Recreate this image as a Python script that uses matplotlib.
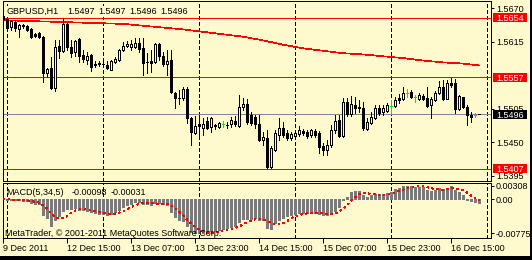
import matplotlib
matplotlib.use("Agg")
import matplotlib.pyplot as plt
from matplotlib.patches import Rectangle
from matplotlib.transforms import blended_transform_factory
import numpy as np

plt.rcParams['font.family'] = ['Liberation Sans', 'DejaVu Sans']
plt.rcParams['lines.scale_dashes'] = False

# ---------------- data ----------------
bar_index = list(range(-1, 119))
opens = [1.5657, 1.5652, 1.5639, 1.5647, 1.5636, 1.5642, 1.5641, 1.5636, 1.5627, 1.5629,
         1.5623, 1.5564, 1.5572, 1.5539, 1.5608, 1.5600, 1.5644, 1.5606, 1.5598, 1.5619,
         1.5593, 1.5585, 1.5593, 1.5578, 1.5579, 1.5578, 1.5577, 1.5569, 1.5582, 1.5585,
         1.5601, 1.5607, 1.5606, 1.5606, 1.5613, 1.5605, 1.5582, 1.5583, 1.5582, 1.5611,
         1.5591, 1.5578, 1.5585, 1.5531, 1.5523, 1.5523, 1.5537, 1.5490, 1.5465, 1.5480,
         1.5474, 1.5485, 1.5475, 1.5477, 1.5475, 1.5480, 1.5479, 1.5480, 1.5485, 1.5477,
         1.5508, 1.5513, 1.5495, 1.5492, 1.5480, 1.5454, 1.5457, 1.5409, 1.5438, 1.5462,
         1.5474, 1.5465, 1.5457, 1.5461, 1.5464, 1.5469, 1.5467, 1.5462, 1.5469, 1.5465,
         1.5444, 1.5438, 1.5446, 1.5470, 1.5487, 1.5461, 1.5516, 1.5497, 1.5511, 1.5508,
         1.5506, 1.5472, 1.5482, 1.5490, 1.5506, 1.5500, 1.5501, 1.5510, 1.5510, 1.5523,
         1.5521, 1.5531, 1.5533, 1.5524, 1.5521, 1.5526, 1.5523, 1.5511, 1.5519, 1.5531,
         1.5541, 1.5521, 1.5547, 1.5547, 1.5505, 1.5524, 1.5508, 1.5495, 1.5495, 1.5497]
highs = [1.5659, 1.5653, 1.5650, 1.5649, 1.5644, 1.5644, 1.5642, 1.5637, 1.5629, 1.5631,
         1.5624, 1.5572, 1.5590, 1.5618, 1.5618, 1.5654, 1.5645, 1.5618, 1.5618, 1.5621,
         1.5601, 1.5598, 1.5595, 1.5583, 1.5583, 1.5582, 1.5583, 1.5585, 1.5590, 1.5603,
         1.5615, 1.5616, 1.5618, 1.5621, 1.5621, 1.5621, 1.5596, 1.5601, 1.5613, 1.5613,
         1.5598, 1.5601, 1.5601, 1.5533, 1.5536, 1.5541, 1.5541, 1.5492, 1.5493, 1.5493,
         1.5490, 1.5492, 1.5492, 1.5480, 1.5483, 1.5485, 1.5483, 1.5492, 1.5493, 1.5528,
         1.5523, 1.5521, 1.5500, 1.5495, 1.5495, 1.5467, 1.5470, 1.5444, 1.5470, 1.5490,
         1.5483, 1.5470, 1.5467, 1.5469, 1.5477, 1.5472, 1.5470, 1.5472, 1.5472, 1.5469,
         1.5449, 1.5454, 1.5479, 1.5495, 1.5495, 1.5523, 1.5523, 1.5526, 1.5524, 1.5519,
         1.5516, 1.5490, 1.5500, 1.5511, 1.5511, 1.5511, 1.5515, 1.5519, 1.5524, 1.5529,
         1.5541, 1.5537, 1.5536, 1.5528, 1.5531, 1.5529, 1.5541, 1.5524, 1.5534, 1.5550,
         1.5552, 1.5552, 1.5557, 1.5554, 1.5528, 1.5525, 1.5511, 1.5500, 1.5498, 1.5497]
lows = [1.5650, 1.5634, 1.5634, 1.5632, 1.5623, 1.5637, 1.5632, 1.5621, 1.5623, 1.5621,
        1.5549, 1.5557, 1.5537, 1.5534, 1.5588, 1.5598, 1.5601, 1.5590, 1.5591, 1.5582,
        1.5582, 1.5578, 1.5567, 1.5573, 1.5575, 1.5575, 1.5570, 1.5568, 1.5580, 1.5584,
        1.5599, 1.5606, 1.5601, 1.5605, 1.5598, 1.5560, 1.5564, 1.5565, 1.5580, 1.5585,
        1.5575, 1.5560, 1.5531, 1.5506, 1.5513, 1.5519, 1.5482, 1.5446, 1.5464, 1.5459,
        1.5462, 1.5472, 1.5467, 1.5472, 1.5474, 1.5475, 1.5474, 1.5475, 1.5477, 1.5475,
        1.5503, 1.5480, 1.5479, 1.5474, 1.5452, 1.5446, 1.5407, 1.5407, 1.5436, 1.5454,
        1.5459, 1.5454, 1.5454, 1.5457, 1.5461, 1.5462, 1.5457, 1.5459, 1.5459, 1.5433,
        1.5429, 1.5429, 1.5442, 1.5465, 1.5459, 1.5459, 1.5493, 1.5493, 1.5498, 1.5500,
        1.5470, 1.5470, 1.5480, 1.5488, 1.5495, 1.5495, 1.5500, 1.5498, 1.5508, 1.5515,
        1.5519, 1.5524, 1.5523, 1.5516, 1.5519, 1.5519, 1.5508, 1.5490, 1.5518, 1.5529,
        1.5519, 1.5521, 1.5541, 1.5498, 1.5503, 1.5507, 1.5479, 1.5483, 1.5492, 1.5496]
closes = [1.5652, 1.5637, 1.5649, 1.5637, 1.5642, 1.5641, 1.5634, 1.5623, 1.5624, 1.5623,
          1.5564, 1.5570, 1.5539, 1.5606, 1.5600, 1.5644, 1.5606, 1.5596, 1.5616, 1.5591,
          1.5587, 1.5591, 1.5573, 1.5577, 1.5580, 1.5579, 1.5572, 1.5583, 1.5587, 1.5601,
          1.5607, 1.5611, 1.5611, 1.5613, 1.5603, 1.5580, 1.5581, 1.5580, 1.5611, 1.5591,
          1.5578, 1.5583, 1.5533, 1.5523, 1.5522, 1.5537, 1.5490, 1.5467, 1.5477, 1.5477,
          1.5480, 1.5474, 1.5490, 1.5478, 1.5482, 1.5480, 1.5478, 1.5487, 1.5480, 1.5508,
          1.5513, 1.5483, 1.5482, 1.5480, 1.5454, 1.5459, 1.5409, 1.5441, 1.5465, 1.5474,
          1.5462, 1.5457, 1.5464, 1.5465, 1.5470, 1.5465, 1.5461, 1.5470, 1.5462, 1.5442,
          1.5438, 1.5446, 1.5470, 1.5485, 1.5461, 1.5516, 1.5497, 1.5513, 1.5506, 1.5506,
          1.5474, 1.5483, 1.5492, 1.5506, 1.5498, 1.5506, 1.5511, 1.5510, 1.5519, 1.5519,
          1.5531, 1.5531, 1.5524, 1.5524, 1.5528, 1.5521, 1.5510, 1.5521, 1.5531, 1.5541,
          1.5521, 1.5547, 1.5544, 1.5505, 1.5526, 1.5508, 1.5495, 1.5492, 1.5495, 1.5496]

ma_index = [-1, 4, 9, 14, 19, 24, 29, 34, 39, 44, 49, 54, 59, 64, 69, 74, 79, 84,
            89, 94, 99, 104, 109, 114, 118]
ma_values = [1.5650, 1.5649, 1.5648, 1.5647, 1.5646, 1.5645, 1.5644, 1.5641, 1.5638,
             1.5635, 1.5631, 1.5627, 1.5623, 1.5617, 1.5610, 1.5604, 1.5600, 1.5596,
             1.5594, 1.5591, 1.5588, 1.5584, 1.5581, 1.5579, 1.5576]

macd_main = [-0.00003, -0.00008, -0.00015, -0.00023, -0.00030, -0.00038, -0.00053, -0.00076, -0.00099, -0.00114,
             -0.00357, -0.00418, -0.00608, -0.00464, -0.00388, -0.00266, -0.00220, -0.00213, -0.00205, -0.00236,
             -0.00251, -0.00266, -0.00296, -0.00312, -0.00327, -0.00327, -0.00350, -0.00327, -0.00296, -0.00236,
             -0.00175, -0.00129, -0.00099, -0.00068, -0.00061, -0.00099, -0.00114, -0.00122, -0.00084, -0.00084,
             -0.00114, -0.00129, -0.00296, -0.00403, -0.00479, -0.00494, -0.00616, -0.00745, -0.00775, -0.00775,
             -0.00768, -0.00768, -0.00722, -0.00707, -0.00692, -0.00669, -0.00654, -0.00631, -0.00616, -0.00517,
             -0.00441, -0.00441, -0.00441, -0.00433, -0.00464, -0.00479, -0.00654, -0.00669, -0.00540, -0.00464,
             -0.00418, -0.00388, -0.00357, -0.00327, -0.00312, -0.00304, -0.00304, -0.00296, -0.00304, -0.00342,
             -0.00357, -0.00350, -0.00289, -0.00266, -0.00175, -0.00008, 0.00053, 0.00160, 0.00182, 0.00182,
             0.00091, 0.00053, 0.00091, 0.00106, 0.00106, 0.00114, 0.00144, 0.00167, 0.00220, 0.00258,
             0.00289, 0.00308, 0.00296, 0.00281, 0.00281, 0.00281, 0.00205, 0.00190, 0.00205, 0.00243,
             0.00220, 0.00243, 0.00296, 0.00205, 0.00167, 0.00091, -0.00008, -0.00046, -0.00068, -0.00098]
macd_signal = [-0.00002, -0.00004, -0.00007, -0.00010, -0.00016, -0.00023, -0.00032, -0.00044, -0.00059, -0.00076,
               -0.00140, -0.00213, -0.00319, -0.00392, -0.00447, -0.00429, -0.00389, -0.00310, -0.00258, -0.00228,
               -0.00225, -0.00234, -0.00251, -0.00272, -0.00290, -0.00306, -0.00322, -0.00329, -0.00325, -0.00307,
               -0.00277, -0.00233, -0.00187, -0.00141, -0.00106, -0.00091, -0.00088, -0.00093, -0.00096, -0.00101,
               -0.00104, -0.00107, -0.00141, -0.00205, -0.00284, -0.00360, -0.00458, -0.00547, -0.00622, -0.00681,
               -0.00736, -0.00766, -0.00762, -0.00748, -0.00731, -0.00712, -0.00689, -0.00671, -0.00652, -0.00617,
               -0.00572, -0.00529, -0.00491, -0.00455, -0.00444, -0.00452, -0.00494, -0.00540, -0.00561, -0.00561,
               -0.00549, -0.00496, -0.00433, -0.00391, -0.00360, -0.00338, -0.00321, -0.00309, -0.00304, -0.00310,
               -0.00321, -0.00330, -0.00328, -0.00321, -0.00287, -0.00218, -0.00137, -0.00047, 0.00042, 0.00114,
               0.00134, 0.00134, 0.00120, 0.00105, 0.00089, 0.00094, 0.00112, 0.00127, 0.00150, 0.00181,
               0.00216, 0.00248, 0.00274, 0.00286, 0.00291, 0.00289, 0.00269, 0.00248, 0.00232, 0.00225,
               0.00213, 0.00220, 0.00241, 0.00241, 0.00226, 0.00200, 0.00150, 0.00082, 0.00027, -0.00031]

level_lines = [1.5654, 1.5557, 1.5407]
bid_price = 1.5496
separator_index = [0, 24, 48, 72, 96, 120]
time_tick_index = [-1, 15, 31, 47, 63, 79, 95, 111]
time_tick_labels = ['9 Dec 2011', '12 Dec 15:00', '13 Dec 07:00', '13 Dec 23:00',
                    '14 Dec 15:00', '15 Dec 07:00', '15 Dec 23:00', '16 Dec 15:00']
price_ticks = [1.5670, 1.5615, 1.5505, 1.5450, 1.5395]
macd_ticks = [0.00308, 0.0, -0.00775]
macd_tick_labels = ['0.00308', '0.00', '-0.00775']
title_tokens = ['GBPUSD,H1', '1.5497', '1.5497', '1.5496', '1.5496']
macd_tokens = ['MACD(5,34,5)', '-0.00098', '-0.00031']
copyright_text = 'MetaTrader, \u00a9 2001-2011 MetaQuotes Software Corp.'

# ---------------- style ----------------
BG = '#FFFACD'
RED = '#FF0000'
GRAY_BID = '#7F8893'
HIST = '#7A7A7A'
LIME = '#00EE00'
FS = 6.5
W, H = 532, 260
LW = 0.72

fig = plt.figure(figsize=(W / 100, H / 100), dpi=100, facecolor=BG)

def frac(x0, y0, x1, y1):
    return [x0 / W, 1 - y1 / H, (x1 - x0) / W, (y1 - y0) / H]

ax = fig.add_axes(frac(2.5, 1, 491, 180.5), facecolor=BG)
ax2 = fig.add_axes(frac(2.5, 183, 491, 238), facecolor=BG)
ov = fig.add_axes([0, 0, 1, 1], zorder=10)
ov.set_xlim(0, W)
ov.set_ylim(H, 0)
ov.axis('off')
ov.patch.set_alpha(0)

XL = (-1.125, 121.0)
for a in (ax, ax2):
    a.set_xlim(*XL)
    for s in a.spines.values():
        s.set_linewidth(0.72)
        s.set_color('black')
        s.set_antialiased(False)

ax.set_ylim(1.538762, 1.568146)
ax2.set_ylim(-0.008778, 0.003648)

# separators
for a in (ax, ax2):
    for s in separator_index:
        a.axvline(s, color='black', lw=LW, linestyle=(0, (2.3, 2.0)), antialiased=False, zorder=1)

# level lines, bid line, MA
for lv in level_lines:
    ax.axhline(lv, color=RED, lw=LW, antialiased=False, zorder=2)
ax.axhline(bid_price, color=GRAY_BID, lw=LW, antialiased=False, zorder=2)
ax.plot(ma_index, ma_values, color=RED, lw=0.5, antialiased=False, zorder=2)

# candles
x = np.array(bar_index, dtype=float)
o = np.array(opens); h = np.array(highs); l = np.array(lows); c = np.array(closes)
doji = o == c
wick_col = [LIME if d else 'black' for d in doji]
ax.vlines(x, l, h, colors=wick_col, lw=LW, antialiased=False, zorder=3)
nd = ~doji
bottoms = np.minimum(o, c)[nd]
heights = np.abs(c - o)[nd]
faces = ['black' if (cc < oo) else BG for oo, cc in zip(o[nd], c[nd])]
ax.bar(x[nd], heights, bottom=bottoms, width=0.45, color=faces, edgecolor='black',
       linewidth=0.62, antialiased=False, zorder=4)
ax.hlines(c[doji], x[doji] - 0.3, x[doji] + 0.3, colors=LIME, lw=LW, antialiased=False, zorder=4)

# MACD histogram (3 px wide columns) and signal
ax2.vlines(x, 0, macd_main, colors=HIST, lw=2.16, antialiased=False, zorder=2)
ax2.plot(x, macd_signal, color=RED, lw=LW, linestyle=(0, (1.4, 2.2)), antialiased=False, zorder=3)

# axes ticks
ax.yaxis.tick_right()
ax.set_yticks(price_ticks)
ax.set_yticklabels(['%.4f' % p for p in price_ticks])
ax.tick_params(axis='y', length=2.2, width=0.72, pad=1.4, labelsize=FS, colors='black')
ax.set_xticks([])

ax2.yaxis.tick_right()
ax2.set_yticks(macd_ticks)
ax2.set_yticklabels(macd_tick_labels)
ax2.tick_params(axis='y', length=2.2, width=0.72, pad=1.4, labelsize=FS)
ax2.set_xticks(time_tick_index)
ax2.set_xticklabels(time_tick_labels)
ax2.tick_params(axis='x', length=3.6, width=0.72, pad=1.0, labelsize=FS)
for t in ax2.get_xticklabels():
    t.set_horizontalalignment('left')

# boxed price labels
tr = blended_transform_factory(ov.transData, ax.transData)
px_price = (ax.get_ylim()[1] - ax.get_ylim()[0]) / 179.5
for lv, fc in [(level_lines[0], RED), (level_lines[1], RED), (level_lines[2], RED), (bid_price, 'black')]:
    ov.add_patch(Rectangle((492.5, lv - 4.5 * px_price), 34.5, 9 * px_price, transform=tr,
                           facecolor=fc, edgecolor='none', zorder=5))
    ov.text(496, lv, '%.4f' % lv, transform=tr, ha='left', va='center_baseline',
            color='white', fontsize=FS, zorder=6)

# texts
title_x = [6.5, 67.5, 98.5, 129.5, 160.5]
for tx, tok in zip(title_x, title_tokens):
    ov.text(tx, 11.5, tok, ha='left', va='center', fontsize=FS, color='black',
            bbox=dict(boxstyle='square,pad=0.15', fc=BG, ec='none'))
macd_x = [6.5, 71.5, 110.5]
for tx, tok in zip(macd_x, macd_tokens):
    ov.text(tx, 192.5, tok, ha='left', va='center', fontsize=FS, color='black')
ov.text(5, 234, copyright_text, ha='left', va='center', fontsize=FS, color='black')

# outer dark border
ov.add_patch(Rectangle((0, 256), W, 4, facecolor='black', edgecolor='none'))
ov.add_patch(Rectangle((530, 0), 2, H, facecolor='black', edgecolor='none'))

fig.savefig('out.png', dpi=100, facecolor=BG)
